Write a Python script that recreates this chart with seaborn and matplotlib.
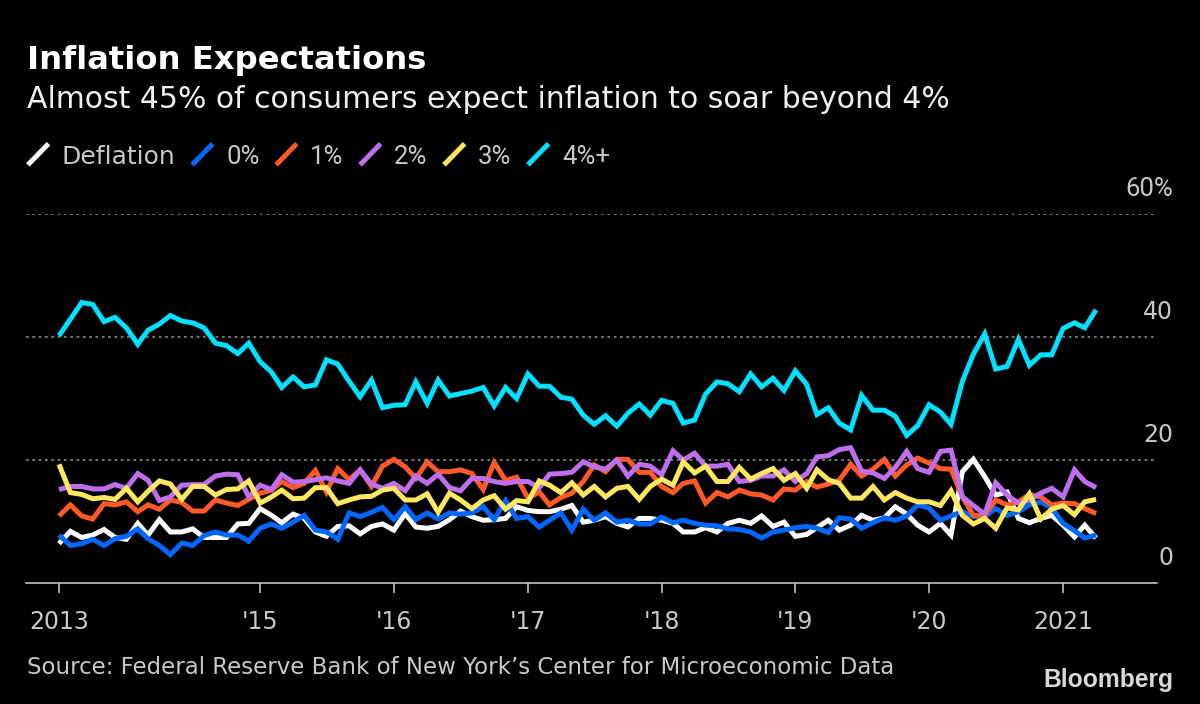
import numpy as np
import pandas as pd
import matplotlib
matplotlib.use("Agg")
import matplotlib.pyplot as plt
from matplotlib.lines import Line2D
from matplotlib.legend_handler import HandlerBase
import seaborn as sns

deflation = [6.4,8.4,7.4,7.8,8.7,7.4,7.1,9.7,7.8,10.3,8.3,8.3,8.8,7.4,7.4,7.4,9.6,9.7,12.1,11,9.8,11.2,10.5,
             8.3,7.6,9.2,9.3,8,9.2,9.6,8.6,11.3,9.1,8.9,9.2,10.3,11.7,10.8,10.2,10.3,10.5,12.4,11.8,11.6,11.6,12,12.6,
             9.9,10.2,10.8,9.7,9.1,10.5,10.5,10.2,9.7,8.3,8.3,9,8.3,9.7,10.2,9.7,10.9,9.2,9.9,7.6,7.9,9,10.2,
             8.6,9.4,11,10.2,10.6,12.4,11.2,9.4,8.3,9.7,7.8,18.1,20.1,17.3,14.3,14.8,10.5,9.8,10.5,11,9.4,7.5,9.4,7.3]
zero = [7.8,6.1,6.4,7.1,6.1,7.2,7.6,8.8,7.2,6.1,4.6,6.5,6.1,7.7,8.3,7.8,7.8,6.8,8.9,9.6,8.9,9.9,11,
        8.6,8.3,7.1,11.4,10.8,11.5,12.3,10.3,12.4,10.3,11.4,10.4,11.4,11.2,11.4,12.4,10.3,13.4,10.5,10.8,9.1,10.2,11.4,8.6,
        12,10.2,11.4,9.9,10.2,9.6,9.6,10.7,9.8,10.2,9.7,9.4,9.3,8.8,8.7,8.3,7.3,8.3,8.6,9,9.2,8.9,8.2,
        10.6,10.4,8.9,9.8,10.6,10.2,10.9,12.7,12.2,10.2,10.9,11.6,10.8,10.8,12.1,11,11.6,12.7,13.2,12.2,9.7,8.5,7.3,7.8]
one = [10.9,12.7,10.9,10.4,12.9,12.7,13.2,11.6,12.7,12,13.5,13.1,11.7,11.7,13.5,13,12.6,13.6,14.6,15.1,16.5,15.5,16.2,
       18.3,14.8,18.6,16.8,18.4,15.7,19,20.1,18.9,17,19.7,18.1,18.1,18.4,17.8,15.2,19.6,16.7,17.2,13.8,14.8,12.7,13.9,14.6,
       16.5,19.2,18.1,20.1,20.1,18,18,15.7,14.7,16.2,16.6,13,14.7,14,15.1,14.5,14.3,13.5,15.3,15.1,16.5,15.6,16.1,
       16.7,19.3,17.4,18.5,20.1,17.4,19.2,20.3,19.5,18.6,18.5,14,11,11,13.5,12.7,13.2,14.4,14,12.7,13,12.9,12.1,11.3]
two = [15.2,15.7,15.7,15.3,15.3,16,15.4,17.8,16.7,13.4,14,15.9,16,16,17.4,17.7,17.6,14,15.9,15.2,17.6,16.4,16.5,
       16.8,17.1,16.6,16.2,18.4,16.1,15.4,16.2,15,17.4,16.2,17.7,15.5,15,17,17,16.5,16.2,16.5,16.5,15.5,17.7,17.8,18,
       19.7,18.9,18.5,20,17.4,19.3,19,17.6,21.5,20,21.1,19,19,19.3,16.5,16.7,17.4,17.4,18.4,16.5,17.8,20.5,20.7,
       21.7,22,18.2,17.9,17,18.8,21.4,18.6,18,21.4,21.6,14,12.6,11.2,16.3,14.3,13,13.5,14.6,15.4,14,18.4,16.5,15.5]
three = [19.3,14.7,14.4,13.7,13.9,13.6,15.4,13.2,14.9,16.6,16.1,13.6,15.7,15.7,14.3,15.2,15.3,16.6,13,14,15.1,13.7,13.8,
         15.5,15.5,12.9,13.5,14,14.1,15.1,15.4,13.5,13.5,14.5,11.5,14.6,13.5,12.1,13.5,14.2,12,13.4,13.2,16.6,15.9,14.7,16.3,
         14.3,15.7,14,15.4,15.7,13.6,15.7,16.9,15.9,19.7,17.9,19,16.5,16.5,18.8,16.9,17.8,18.6,16.7,17.8,15.4,18.4,16.8,
         16.2,13.8,13.8,15.7,13.5,14.7,13.8,13.2,13.2,12.6,15,11,9.6,10.5,8.9,12.2,11.9,14.5,10.4,12,12.6,11.1,13.2,13.6]
four_plus = [40.2,42.9,45.6,45.3,42.5,43.2,41.5,38.8,41.1,42.1,43.5,42.6,42.3,41.5,39,38.6,37.3,39,36,34.3,31.8,33.5,31.9,32.2,
             36.3,35.6,32.8,30.3,33,28.5,28.9,29,32.7,29.2,33,30.4,30.8,31.2,31.8,28.8,31.8,30,34,32,32,30.2,29.9,27.3,25.8,27.2,25.5,
             27.6,29.1,27.3,29.7,29.2,26,26.5,30.7,32.7,32.4,31.1,34,31.9,33.3,31.3,34.5,32.3,27.4,28.5,26,24.9,30.5,28.1,28.1,27.1,24,
             25.6,29,27.8,25.8,32.8,37.2,40.5,34.8,35.2,39.6,35.4,37.1,37.1,41.4,42.3,41.5,44.4]

series_names = ["Deflation", "0%", "1%", "2%", "3%", "4%+"]
series_values = [deflation, zero, one, two, three, four_plus]
series_colors = ["#ffffff", "#0068ff", "#ff5a26", "#bf6fee", "#ffe760", "#00e0ff"]
start_month = "2013-07"
tick_dates = ["2013-07-01","2015-01-01","2016-01-01","2017-01-01","2018-01-01","2019-01-01","2020-01-01","2021-01-01"]
tick_labels = ["2013","'15","'16","'17","'18","'19","'20","2021"]
y_ticks = [20, 40, 60]
y_labels = ["20", "40", "60%"]

dates = pd.date_range(start_month, periods=len(four_plus), freq="MS")
df = pd.concat([pd.DataFrame({"date": dates, "value": v, "series": n})
                for n, v in zip(series_names, series_values)], ignore_index=True)

sns.set_theme(style="dark")
plt.rcParams["font.family"] = ["DejaVu Sans"]
W, H = 1200, 704
fig = plt.figure(figsize=(W/100, H/100), dpi=100, facecolor="black")
ax = fig.add_axes([26/W, 1-583/H, (1157-26)/W, (583-214)/H], facecolor="black")

sns.lineplot(data=df, x="date", y="value", hue="series", hue_order=series_names,
             palette=series_colors, linewidth=3.6, ax=ax, legend=False, errorbar=None,
             solid_joinstyle="miter", solid_capstyle="butt")

days_per_px = (pd.Timestamp("2021-01-01") - pd.Timestamp("2015-01-01")).days / (1063 - 260)
x0 = pd.Timestamp("2013-07-01") - pd.Timedelta(days=(59-26)*days_per_px)
x1 = pd.Timestamp("2013-07-01") + pd.Timedelta(days=(1157-59)*days_per_px)
ax.set_xlim(x0, x1)
ax.set_ylim(0, 60)
for s in ["top", "right", "left"]:
    ax.spines[s].set_visible(False)
ax.spines["bottom"].set_color("#d0d0d0")
ax.spines["bottom"].set_linewidth(1.1)
ax.set_xlabel(""); ax.set_ylabel("")
ax.set_xticks(pd.to_datetime(tick_dates))
ax.set_xticklabels(tick_labels, color="#c8c8c8", fontsize=17)
ax.tick_params(axis="x", length=7.5, width=1.1, color="#d0d0d0", pad=12, bottom=True)
ax.set_yticks(y_ticks)
ax.set_yticklabels([])
ax.tick_params(axis="y", length=0)
ax.grid(False)
ax.set_axisbelow(True)
ax.yaxis.grid(True, color="#808080", linestyle=(0, (1.5, 2.0)), linewidth=1.3)
ax.xaxis.grid(False)
for v, lab in zip(y_ticks + [0], y_labels + ["0"]):
    ax.annotate(lab, xy=(1.0, v), xycoords=("axes fraction", "data"), xytext=(16, 13),
                textcoords="offset pixels", ha="right", va="bottom", color="#c8c8c8",
                fontsize=18.5 if "%" in lab else 17,
                family="Roboto" if "%" in lab else "DejaVu Sans", annotation_clip=False)

class DiagonalHandler(HandlerBase):
    def create_artists(self, legend, orig, xd, yd, width, height, fontsize, trans):
        ln = Line2D([0, width], [-0.05*height, 1.0*height], color=orig.get_color(),
                    lw=3.6, solid_capstyle="butt", transform=trans)
        return [ln]

handles = [Line2D([], [], color=c) for c in series_colors]
leg = fig.legend(handles, series_names, ncol=6, loc="upper left", bbox_to_anchor=(23/W, 1-140/H),
                 frameon=False, fontsize=17.5, labelcolor="#c8c8c8", handler_map={Line2D: DiagonalHandler()},
                 handlelength=0.85, handleheight=0.9, handletextpad=0.55, columnspacing=0.68, borderpad=0.2, borderaxespad=0)
leg.get_texts()[0].set_fontsize(18)
for t in leg.get_texts()[1:]:
    t.set_family("Roboto")
    t.set_fontsize(18.5)

fig.text(27/W, 1-60/H, "Inflation Expectations", color="white", fontsize=23.2, fontweight="bold", va="center", ha="left")
fig.text(27/W, 1-99/H, "Almost 45% of consumers expect inflation to soar beyond 4%", color="#f0f0f0", fontsize=21.5, va="center", ha="left")
fig.text(27/W, 1-668/H, "Source: Federal Reserve Bank of New York\u2019s Center for Microeconomic Data", color="#c8c8c8", fontsize=16.5, va="center", ha="left")
fig.text(1173/W, 1-680/H, "Bloomberg", color="#d8d8d8", fontsize=17.7, fontweight="bold", family="Liberation Sans", va="center", ha="right")

fig.savefig("out.png", dpi=100, facecolor="black")
